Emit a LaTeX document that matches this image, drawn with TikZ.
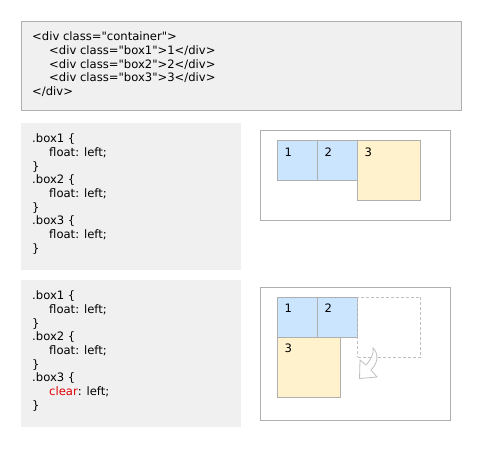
\documentclass[tikz,border=0pt]{standalone}
\usepackage{fontspec}
\setmainfont{DejaVu Sans}[Ligatures=TeXOff]
\definecolor{codebg}{HTML}{F0F0F0}
\definecolor{rimgray}{HTML}{AFAFAF}
\definecolor{boxblue}{HTML}{CCE5FF}
\definecolor{boxyellow}{HTML}{FFF2CC}
\definecolor{clearred}{HTML}{E00000}
\begin{document}
\begin{tikzpicture}[x=1pt,y=-1pt,
	code/.style={anchor=mid west, inner sep=0pt, font=\fontsize{11.6}{13}\selectfont},
	panel/.style={fill=codebg},
	frame/.style={draw=rimgray, line width=1pt},
	floatbox/.style={draw=rimgray, line width=1pt, anchor=north west, inner sep=0pt, outer sep=0pt},
	lbl/.style={anchor=mid west, inner sep=0pt, font=\fontsize{11.6}{13}\selectfont}]
\useasboundingbox (0,0) rectangle (481,451);
	%Bloco HTML
\fill[panel] (21,21) rectangle (461,110);
\draw[frame] (21,21) rectangle (461,110);
\foreach \dx/\txt [count=\i] in {0/{<div class="container">}, 17/{<div class="box1">1</div>}, 17/{<div class="box2">2</div>}, 17/{<div class="box3">3</div>}, 0/{</div>}}
	\node[code] (html\i) at (32+\dx,{38+(\i-1)*13.7}) {\txt};
	%CSS com float
\fill[panel] (21,123) rectangle (241,270);
\foreach \dx/\txt [count=\i] in {0/{.box1 \{}, 17/{float: left;}, 0/{\}}, 0/{.box2 \{}, 17/{float: left;}, 0/{\}}, 0/{.box3 \{}, 17/{float: left;}, 0/{\}}}
	\node[code] (cssa\i) at (32+\dx,{140+(\i-1)*13.7}) {\txt};
	%CSS com clear
\fill[panel] (21,280) rectangle (241,427);
\foreach \dx/\txt [count=\i] in {0/{.box1 \{}, 17/{float: left;}, 0/{\}}, 0/{.box2 \{}, 17/{float: left;}, 0/{\}}, 0/{.box3 \{}, 17/{\textcolor{clearred}{clear}: left;}, 0/{\}}}
	\node[code] (cssb\i) at (32+\dx,{297+(\i-1)*13.7}) {\txt};
	%Resultado 1
\draw[frame] (260.5,130.5) rectangle (450.5,220);
\node[floatbox, fill=boxblue, minimum width=40, minimum height=40] (a1) at (277.5,140.5) {};
\node[floatbox, fill=boxblue, minimum width=40, minimum height=40] (a2) at (a1.north east) {};
\node[floatbox, fill=boxyellow, minimum width=63, minimum height=60] (a3) at (a2.north east) {};
\foreach \n in {1,2,3}
	\node[lbl] (la\n) at ([xshift=7pt, yshift=-13pt]a\n.north west) {\n};
	%Resultado 2
\draw[frame] (260.5,287) rectangle (450.5,420);
\node[floatbox, fill=boxblue, minimum width=40, minimum height=40] (b1) at (277.5,297) {};
\node[floatbox, fill=boxblue, minimum width=40, minimum height=40] (b2) at (b1.north east) {};
\node[floatbox, draw=rimgray!80, dash pattern=on 3pt off 2pt, minimum width=63, minimum height=60] (ghost) at (b2.north east) {};
\node[floatbox, fill=boxyellow, minimum width=63, minimum height=60] (b3) at (b1.south west) {};
\foreach \n in {1,2,3}
	\node[lbl] (lb\n) at ([xshift=7pt, yshift=-13pt]b\n.north west) {\n};
	%Seta curva
\draw[draw=rimgray!80, fill=white, line width=0.8pt, line join=miter]
	(373,348) .. controls (379,354) and (378,363) .. (371,370) -- (377,377) -- (359.5,378.5)
	-- (360,360) -- (366,365) .. controls (371,359) and (374,354) .. cycle;
\end{tikzpicture}
\end{document}
